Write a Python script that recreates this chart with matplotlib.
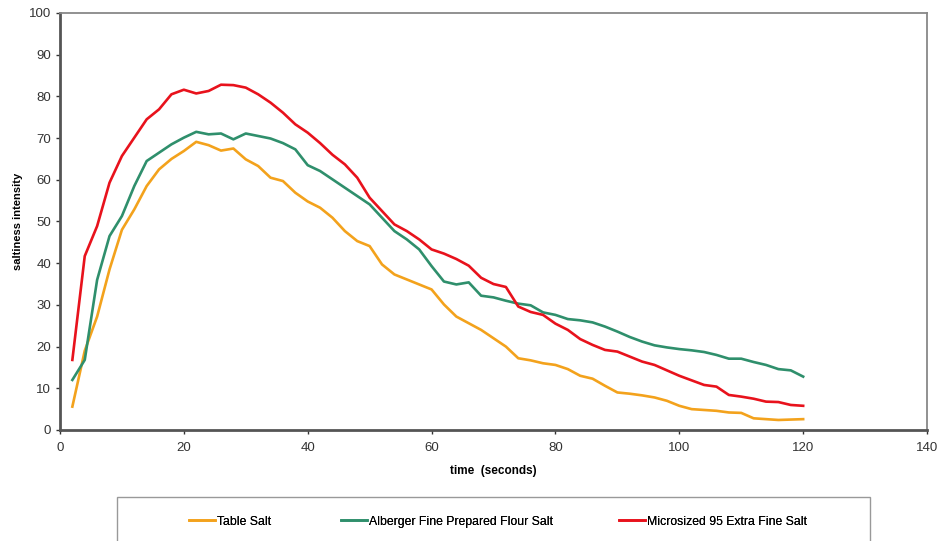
import numpy as np
import matplotlib.pyplot as plt
from matplotlib.patches import Rectangle

plt.rcParams['font.family'] = ['Liberation Sans', 'DejaVu Sans']

# time points (seconds), sampled every 2 s
time_s = np.arange(2, 122, 2)

table_salt = [5.6, 19, 27.2, 38.5, 48, 52.9, 58.5, 62.5, 65, 66.9,
              69.1, 68.3, 67, 67.5, 64.9, 63.3, 60.5, 59.7, 56.9, 54.8,
              53.3, 50.9, 47.7, 45.3, 44.1, 39.7, 37.3, 36.1, 34.9, 33.7,
              30.1, 27.2, 25.6, 24, 22, 20, 17.2, 16.7, 16, 15.6,
              14.6, 13, 12.3, 10.6, 9, 8.7, 8.3, 7.8, 7, 5.8,
              5, 4.8, 4.6, 4.2, 4.1, 2.8, 2.6, 2.4, 2.5, 2.6]

alberger = [12, 16.8, 36, 46.5, 51.3, 58.5, 64.5, 66.5, 68.5, 70.1,
            71.5, 70.9, 71.1, 69.7, 71.1, 70.5, 69.9, 68.8, 67.3, 63.5,
            62.1, 60.1, 58.1, 56.1, 54.1, 50.9, 47.7, 45.7, 43.3, 39.3,
            35.6, 34.9, 35.4, 32.2, 31.8, 31, 30.3, 29.9, 28.2, 27.6,
            26.6, 26.3, 25.8, 24.8, 23.6, 22.3, 21.2, 20.3, 19.8, 19.4,
            19.1, 18.7, 18, 17.1, 17.1, 16.3, 15.6, 14.6, 14.3, 12.8]

microsized = [16.8, 41.7, 48.9, 59.3, 65.7, 70.1, 74.5, 76.9, 80.5, 81.6,
              80.7, 81.3, 82.8, 82.7, 82.1, 80.5, 78.5, 76.1, 73.3, 71.3,
              68.8, 66, 63.7, 60.5, 55.7, 52.5, 49.3, 47.7, 45.7, 43.3,
              42.3, 41, 39.4, 36.5, 35, 34.3, 29.6, 28.3, 27.6, 25.5,
              24, 21.8, 20.4, 19.2, 18.8, 17.6, 16.4, 15.6, 14.3, 13,
              11.9, 10.8, 10.4, 8.4, 8, 7.5, 6.8, 6.7, 6, 5.8]

labels = ["Table Salt", "Alberger Fine Prepared Flour Salt", "Microsized 95 Extra Fine Salt"]
colors = ["#f3a21c", "#2f8f6c", "#e8121c"]

fig = plt.figure(figsize=(9.4, 5.41), dpi=100)
ax = fig.add_axes([0.0638, 0.2052, 0.9224, 0.7708])

handles = []
for y, lab, c in zip([table_salt, alberger, microsized], labels, colors):
    h, = ax.plot(time_s, y, color=c, lw=1.9, label=lab, solid_joinstyle="round")
    handles.append(h)

ax.set_xlim(0, 140)
ax.set_ylim(0, 100)
ax.set_xticks(range(0, 141, 20))
ax.set_yticks(range(0, 101, 10))
ax.tick_params(colors="#333333", labelsize=9.5, length=3, width=1)
ax.tick_params(axis="x", pad=6)

for side in ["left", "bottom"]:
    ax.spines[side].set_color("#555555")
    ax.spines[side].set_linewidth(2)
for side in ["top", "right"]:
    ax.spines[side].set_color("#888888")
    ax.spines[side].set_linewidth(1.3)

ax.set_xlabel("time  (seconds)", fontsize=8.5, fontweight="bold")
ax.xaxis.set_label_coords(0.5, -0.085)
ax.set_ylabel("saltiness intensity", fontsize=8, fontweight="bold")
ax.yaxis.set_label_coords(-0.043, 0.5)

# legend box along the bottom, one entry per series
fig.patches.append(Rectangle((117 / 940, -0.05), 753 / 940, 0.05 + 44 / 541,
                             transform=fig.transFigure, facecolor="white",
                             edgecolor="#999999", lw=1))
for h, x0 in zip(handles, [189 / 940, 341 / 940, 619 / 940]):
    leg = fig.legend(handles=[h], loc="center left", bbox_to_anchor=(x0, 0.036),
                     frameon=False, fontsize=8.8, handlelength=2.15,
                     handletextpad=0.15, borderpad=0, borderaxespad=0)
    fig.add_artist(leg)

fig.savefig("out.png", dpi=100)
